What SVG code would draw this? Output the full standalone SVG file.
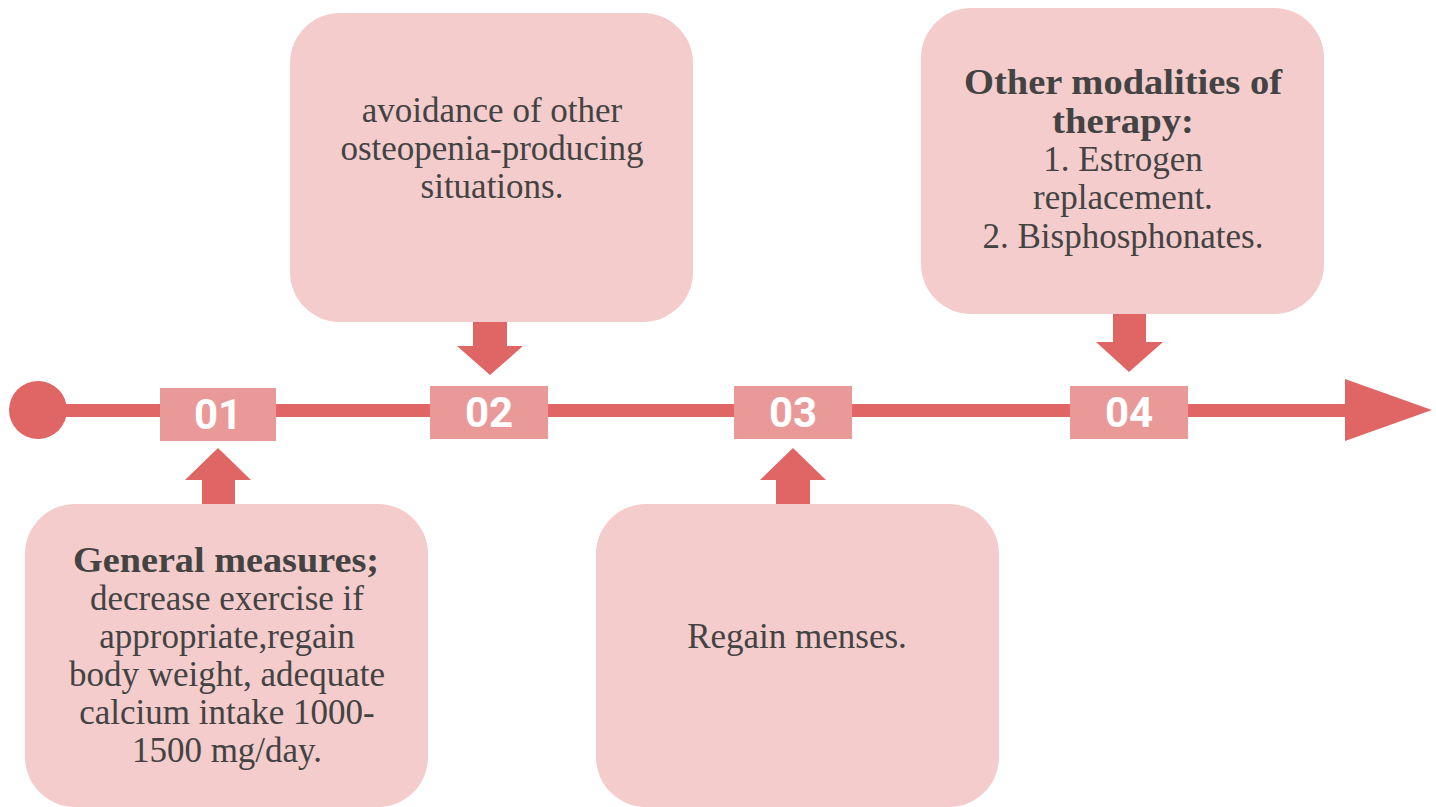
<svg xmlns="http://www.w3.org/2000/svg" width="1436" height="807" viewBox="0 0 1436 807">
<style>
.box{fill:#F4CCCC}
.tag{fill:#EA9999}
.arr{fill:#E06666}
.num{font-family:Roboto,"DejaVu Sans",sans-serif;font-weight:700;font-size:42px;fill:#FFFFFF;text-anchor:middle}
.t{font-family:"Liberation Serif","DejaVu Serif",serif;font-size:35px;fill:#434343;text-anchor:middle}
.b{font-weight:700}
</style>
<rect width="1436" height="807" fill="#FFFFFF"/>
<g id="connectors">
<rect class="arr" x="38" y="404" width="1312" height="13"/>
<circle class="arr" cx="38" cy="410" r="29"/>
<polygon class="arr" points="1345,379 1432,410 1345,441"/>
<polygon class="arr" points="202,505 202,480 185,480 218,448 251,480 235,480 235,505"/>
<polygon class="arr" points="473,322 507,322 507,346 523,346 490,375 457,346 473,346"/>
<polygon class="arr" points="776,505 776,480 760,480 793,448 826,480 810,480 810,505"/>
<polygon class="arr" points="1113,314 1146,314 1146,342 1163,342 1129,372 1096,342 1113,342"/>
</g>
<g id="tag01"><rect class="tag" x="160" y="388" width="116" height="53"/><text class="num" x="218" y="429">01</text></g>
<g id="tag02"><rect class="tag" x="430" y="386" width="118" height="53"/><text class="num" x="489" y="427">02</text></g>
<g id="tag03"><rect class="tag" x="734" y="386" width="118" height="53"/><text class="num" x="793" y="427">03</text></g>
<g id="tag04"><rect class="tag" x="1070" y="386" width="118" height="53"/><text class="num" x="1129" y="427">04</text></g>
<g id="node1">
<rect class="box" x="25" y="504" width="403" height="303" rx="50"/>
<text class="t b" x="226" y="572" textLength="306" lengthAdjust="spacingAndGlyphs">General measures;</text>
<text class="t"><tspan x="227" y="610">decrease exercise if</tspan><tspan x="227" y="648">appropriate,regain</tspan><tspan x="227" y="686">body weight, adequate</tspan><tspan x="227" y="724">calcium intake 1000-</tspan><tspan x="227" y="762">1500 mg/day.</tspan></text>
</g>
<g id="node2">
<rect class="box" x="290" y="13" width="403" height="309" rx="50"/>
<text class="t"><tspan x="492" y="122">avoidance of other</tspan><tspan x="492" y="160">osteopenia-producing</tspan><tspan x="492" y="198">situations.</tspan></text>
</g>
<g id="node3">
<rect class="box" x="596" y="504" width="403" height="303" rx="50"/>
<text class="t"><tspan x="797" y="648">Regain menses.</tspan></text>
</g>
<g id="node4">
<rect class="box" x="921" y="8" width="403" height="306" rx="50"/>
<text class="t b" x="1123" y="94" textLength="318" lengthAdjust="spacingAndGlyphs">Other modalities of</text>
<text class="t b" x="1123" y="133" textLength="142" lengthAdjust="spacingAndGlyphs">therapy:</text>
<text class="t"><tspan x="1123" y="171">1. Estrogen</tspan><tspan x="1123" y="209">replacement.</tspan><tspan x="1123" y="248">2. Bisphosphonates.</tspan></text>
</g>
</svg>
